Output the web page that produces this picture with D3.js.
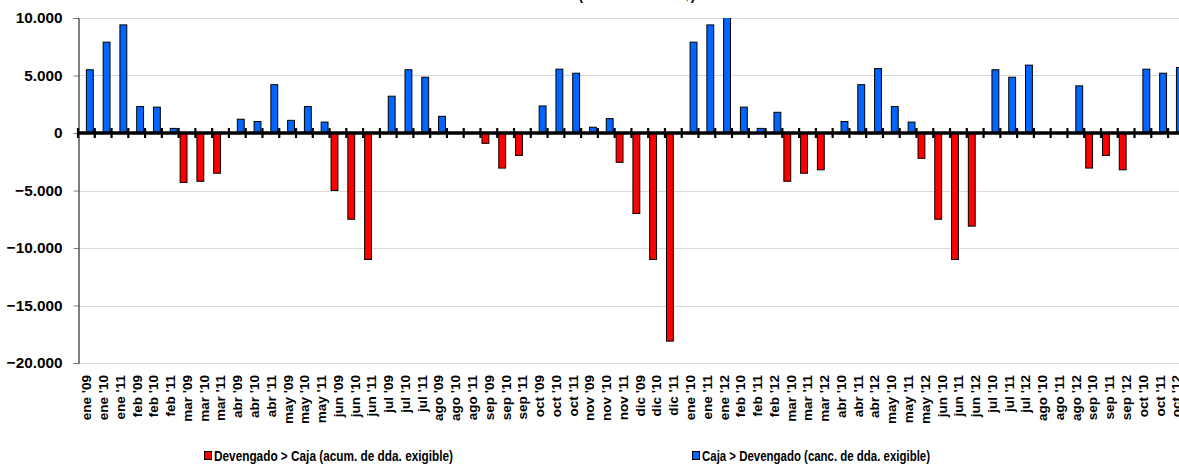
<!DOCTYPE html>
<html>
<head>
<meta charset="utf-8">
<script src="https://cdn.jsdelivr.net/npm/d3@7"></script>
<style>
  html, body { margin: 0; padding: 0; background: #fff; }
  svg { display: block; }
</style>
</head>
<body>
<svg id="chart" width="1179" height="467"></svg>
<script>
const categories = [
  "ene '09","ene '10","ene '11","feb '09","feb '10","feb '11","mar '09","mar '10","mar '11",
  "abr '09","abr '10","abr '11","may '09","may '10","may '11","jun '09","jun '10","jun '11",
  "jul '09","jul '10","jul '11","ago '09","ago '10","ago '11","sep '09","sep '10","sep '11",
  "oct '09","oct '10","oct '11","nov '09","nov '10","nov '11","dic '09","dic '10","dic '11",
  "ene '10","ene '11","ene '12","feb '10","feb '11","feb '12","mar '10","mar '11","mar '12",
  "abr '10","abr '11","abr '12","may '10","may '11","may '12","jun '10","jun '11","jun '12",
  "jul '10","jul '11","jul '12","ago '10","ago '11","ago '12","sep '10","sep '11","sep '12",
  "oct '10","oct '11","oct '12"
];
// Devengado > Caja (acum. de dda. exigible)
const devengadoMayor = [
  0,0,0, 0,0,0, -4300,-4200,-3500,
  0,0,0, 0,0,0, -5000,-7500,-11000,
  0,0,0, 0,0,0, -900,-3050,-1950,
  0,0,0, 0,0,-2550, -7000,-11000,-18100,
  0,0,0, 0,0,0, -4200,-3500,-3200,
  0,0,0, 0,0,-2200, -7500,-11000,-8100,
  0,0,0, 0,0,0, -3050,-1950,-3200,
  0,0,0
];
// Caja > Devengado (canc. de dda. exigible)
const cajaMayor = [
  5500,7900,9400, 2300,2250,400, 0,0,0,
  1200,1000,4200, 1100,2300,950, 0,0,0,
  3200,5500,4850, 1450,0,0, 0,0,0,
  2350,5550,5200, 500,1250,0, 0,0,0,
  7900,9400,10300, 2250,400,1800, 0,0,0,
  1000,4200,5600, 2300,950,0, 0,0,0,
  5500,4850,5900, 0,0,4100, 0,0,0,
  5550,5200,5700
];
const seriesNames = ["Devengado > Caja (acum. de dda. exigible)", "Caja > Devengado (canc. de dda. exigible)"];
const seriesColors = ["#FF0000", "#0066FF"];
const yTicks = [10000, 5000, 0, -5000, -10000, -15000, -20000];
const title = "(en millones de $)";

const FONT = "'Liberation Sans', Arial, sans-serif";

const svg = d3.select("#chart");
const pLeft = 78, pTop = 18, pBottom = 363;
const step = 16.77;
const pRight = pLeft + step * categories.length;

const fmt = d3.formatLocale({decimal: ",", thousands: ".", grouping: [3], currency: ["$", ""]}).format(",.0f");

// font size so that a sample string reaches a target pixel width
function fitSize(sample, target) {
  const base = 20;
  const t = svg.append("text").attr("font-family", FONT).attr("font-weight", "bold")
    .attr("font-size", base).text(sample);
  const w = t.node().getComputedTextLength();
  t.remove();
  return w > 0 ? base * target / w : 13;
}
const ySize = fitSize("-20.000", 52);
const xSize = Math.min(fitSize("may '09", 49), 14.5);
const tSize = fitSize(title, 117);

const x0 = d3.scaleBand().domain(categories.map((d, i) => i)).range([pLeft, pRight]).paddingInner(0).paddingOuter(0);
const x1 = d3.scaleBand().domain([0, 1]).range([0, x0.bandwidth()]).paddingInner(0).paddingOuter(0.22);
const y = d3.scaleLinear().domain([-20000, 10000]).range([pBottom, pTop]);

svg.append("defs").append("clipPath").attr("id", "plot")
  .append("rect").attr("x", pLeft).attr("y", pTop).attr("width", pRight - pLeft).attr("height", pBottom - pTop);

svg.append("text").attr("x", 637).attr("y", 0).attr("text-anchor", "middle")
  .attr("font-family", FONT).attr("font-weight", "bold").attr("font-size", tSize).text(title);

svg.append("g").selectAll("line").data(yTicks).join("line")
  .attr("x1", pLeft).attr("x2", pRight)
  .attr("y1", d => Math.round(y(d)) + 0.5).attr("y2", d => Math.round(y(d)) + 0.5)
  .attr("stroke", "#d9d9d9").attr("stroke-width", 1);

const yAxis = d3.axisLeft(y).tickValues(yTicks).tickSize(5).tickPadding(11).tickFormat(d => fmt(d));
const gy = svg.append("g").attr("transform", `translate(${pLeft + 0.5},0)`).call(yAxis)
  .attr("font-family", FONT).attr("font-size", ySize).attr("font-weight", "bold");
gy.select(".domain").attr("stroke", "#000").attr("stroke-width", 1);
gy.selectAll(".tick line").attr("stroke", "#808080");
gy.selectAll(".tick text").attr("fill", "#000");

const series = [devengadoMayor, cajaMayor];
const bars = svg.append("g").attr("clip-path", "url(#plot)");
series.forEach((vals, s) => {
  bars.append("g").selectAll("rect").data(vals.map((v, i) => ({i, v})).filter(d => d.v !== 0)).join("rect")
    .attr("x", d => x0(d.i) + x1(s))
    .attr("width", x1.bandwidth())
    .attr("y", d => y(Math.max(0, d.v)))
    .attr("height", d => Math.abs(y(d.v) - y(0)))
    .attr("fill", seriesColors[s])
    .attr("stroke", "#000").attr("stroke-width", 1);
});

const y0 = y(0);
svg.append("line").attr("x1", pLeft).attr("x2", pRight).attr("y1", y0).attr("y2", y0)
  .attr("stroke", "#000").attr("stroke-width", 3.5);
svg.append("g").selectAll("line").data(d3.range(categories.length + 1)).join("line")
  .attr("x1", i => pLeft + i * x0.step()).attr("x2", i => pLeft + i * x0.step())
  .attr("y1", y0 - 5).attr("y2", y0 + 5)
  .attr("stroke", "#000").attr("stroke-width", 2.2);

svg.append("g").attr("font-family", FONT).attr("font-weight", "bold").attr("font-size", xSize)
  .selectAll("text").data(categories).join("text")
  .attr("transform", (d, i) => `translate(${x0(i) + x0.bandwidth() / 2},${pBottom + 12}) rotate(-90)`)
  .attr("text-anchor", "end").attr("dy", "0.36em")
  .text(d => d);

const legendX = [204, 692];
const legendW = [239, 228];
const lg = svg.append("g").attr("font-family", FONT).attr("font-weight", "bold").attr("font-size", 14);
seriesNames.forEach((name, s) => {
  lg.append("rect").attr("x", legendX[s] + 0.5).attr("y", 451.5).attr("width", 7).attr("height", 8)
    .attr("fill", seriesColors[s]).attr("stroke", "#000").attr("stroke-width", 1);
  lg.append("text").attr("x", legendX[s] + 10).attr("y", 461)
    .attr("textLength", legendW[s]).attr("lengthAdjust", "spacingAndGlyphs").text(name);
});
</script>
</body>
</html>
